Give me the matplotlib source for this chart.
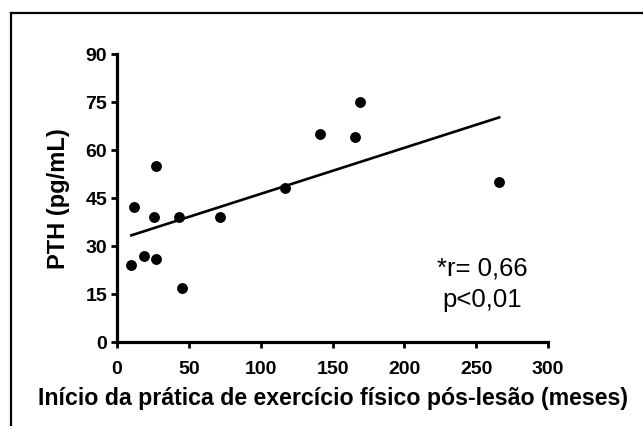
import matplotlib
matplotlib.use("Agg")
import matplotlib.pyplot as plt
from matplotlib.lines import Line2D
import numpy as np

# months since start of exercise after injury vs PTH
inicio_meses = [10, 12, 19, 26, 27, 27, 43, 45, 72, 117, 141, 166, 169, 266]
pth = [24, 42, 27, 39, 55, 26, 39, 17, 39, 48, 65, 64, 75, 50]

x_ticks = [0, 50, 100, 150, 200, 250, 300]
y_ticks = [0, 15, 30, 45, 60, 75, 90]

plt.rcParams['font.family'] = ['Liberation Sans', 'DejaVu Sans']

fig = plt.figure(figsize=(6.43, 4.27), dpi=100)
ax = fig.add_axes([117/643, 1 - 343/427, (548 - 117)/643, (343 - 54.7)/427])

x = np.array(inicio_meses, dtype=float)
y = np.array(pth, dtype=float)
ax.plot(x, y, 'o', color='black', markersize=6.8, clip_on=False, zorder=3)

slope, intercept = np.polyfit(x, y, 1)
xl = np.array([x.min(), x.max()])
ax.plot(xl, slope * xl + intercept, color='black', linewidth=1.9)

ax.set_xlim(0, 300)
ax.set_ylim(0, 90)
ax.set_xticks(x_ticks)
ax.set_yticks(y_ticks)

for side in ['top', 'right']:
    ax.spines[side].set_visible(False)
for side in ['left', 'bottom']:
    ax.spines[side].set_linewidth(2.3)
    ax.spines[side].set_capstyle('projecting')

ax.tick_params(direction='out', length=4.5, width=2.0, labelsize=14)
ax.tick_params(axis='x', pad=8.5)
ax.tick_params(axis='y', pad=2.5)
for lab in ax.get_xticklabels() + ax.get_yticklabels():
    lab.set_fontweight('bold')

ax.set_xlabel('Início da prática de exercício físico pós-lesão (meses)',
              fontsize=16.7, fontweight='bold', labelpad=6.5)
ax.set_ylabel('PTH (pg/mL)', fontsize=17, fontweight='bold', labelpad=11)

ax.text(254, 21.2, '*r= 0,66', ha='center', va='baseline', fontsize=18.5)
ax.text(254, 11.2, 'p<0,01', ha='center', va='baseline', fontsize=18.5)

# frame around the figure (only left and top edges visible)
fl = 10.5 / 643
ft = 1 - 14 / 427
fig.add_artist(Line2D([fl, fl], [0, ft], color='black', linewidth=1.6,
                      transform=fig.transFigure))
fig.add_artist(Line2D([fl, 1], [ft, ft], color='black', linewidth=1.6,
                      transform=fig.transFigure))

plt.savefig('out.png', dpi=100)
